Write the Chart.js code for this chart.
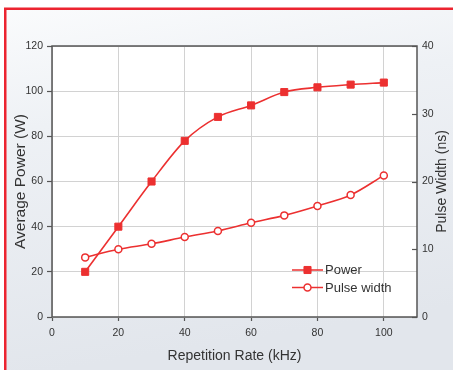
<!DOCTYPE html>
<html>
<head>
<meta charset="utf-8">
<script src="https://cdn.jsdelivr.net/npm/chart.js@4/dist/chart.umd.min.js"></script>
<style>
html,body{margin:0;padding:0;background:#fff;}
#wrap{width:453px;height:370px;position:relative;}
</style>
</head>
<body>
<div id="wrap"><canvas id="c" width="453" height="370"></canvas></div>
<script>
// ---- data ----
const repRate = [10, 20, 30, 40, 50, 60, 70, 80, 90, 100];
const power = [20, 40, 60, 78, 88.6, 93.7, 99.6, 101.7, 102.9, 103.8];
const pulseWidth = [8.8, 10, 10.8, 11.8, 12.7, 13.9, 15, 16.4, 18, 20.9];
const seriesNames = ['Power', 'Pulse width'];
const xTitle = 'Repetition Rate (kHz)';
const yLeftTitle = 'Average Power (W)';
const yRightTitle = 'Pulse Width (ns)';

const RED = '#ec3030';
const FONT = '"Liberation Sans", Arial, sans-serif';
const TXT = '#333333';

const bgPlugin = {
  id: 'bg',
  beforeDraw(chart) {
    const {ctx, width, height, chartArea: a} = chart;
    ctx.save();
    ctx.fillStyle = '#ffffff';
    ctx.fillRect(0, 0, width, height);
    const g = ctx.createLinearGradient(0, 0, 60, height);
    g.addColorStop(0, '#fbfcfd');
    g.addColorStop(0.35, '#eef1f5');
    g.addColorStop(1, '#e2e6ec');
    ctx.fillStyle = g;
    ctx.fillRect(5, 9, width, height);
    ctx.fillStyle = '#ffffff';
    ctx.fillRect(a.left, a.top, a.right - a.left, a.bottom - a.top);
    ctx.strokeStyle = '#ec2430';
    ctx.lineWidth = 2.5;
    ctx.strokeRect(5.25, 8.75, width + 20, height + 20);
    ctx.restore();
  },
  afterDatasetsDraw(chart) {
    const {ctx, chartArea: a} = chart;
    ctx.save();
    // frame
    ctx.strokeStyle = '#555555';
    ctx.lineWidth = 1.5;
    ctx.strokeRect(a.left, a.top, a.right - a.left, a.bottom - a.top);
    // inward ticks on right axis
    const yr = chart.scales.yR;
    ctx.lineWidth = 1.2;
    yr.ticks.forEach(t => {
      const y = Math.round(yr.getPixelForValue(t.value)) + 0.5;
      ctx.beginPath();
      ctx.moveTo(a.right - 5, y);
      ctx.lineTo(a.right, y);
      ctx.stroke();
    });
    // right axis title (reads bottom to top)
    ctx.save();
    ctx.translate(442.5, (a.top + a.bottom) / 2);
    ctx.rotate(-Math.PI / 2);
    ctx.fillStyle = TXT;
    ctx.font = '14px ' + FONT;
    ctx.textAlign = 'center';
    ctx.textBaseline = 'middle';
    ctx.fillText(yRightTitle, 0, 0);
    ctx.restore();
    // legend
    const rows = [
      {name: seriesNames[0], ds: chart.data.datasets[0], y: 270},
      {name: seriesNames[1], ds: chart.data.datasets[1], y: 287.5}
    ];
    const x0 = 292, x1 = 323, xm = 307.5;
    rows.forEach(r => {
      ctx.strokeStyle = RED;
      ctx.lineWidth = 1.5;
      ctx.beginPath();
      ctx.moveTo(x0, r.y);
      ctx.lineTo(x1, r.y);
      ctx.stroke();
      ctx.fillStyle = r.ds.pointBackgroundColor;
      ctx.strokeStyle = RED;
      ctx.lineWidth = r.ds.pointBorderWidth;
      ctx.beginPath();
      if (r.ds.pointStyle === 'rect') {
        const s = Math.SQRT1_2 * r.ds.pointRadius;
        ctx.rect(xm - s, r.y - s, 2 * s, 2 * s);
      } else {
        ctx.arc(xm, r.y, r.ds.pointRadius, 0, Math.PI * 2);
      }
      ctx.fill();
      ctx.stroke();
      ctx.fillStyle = TXT;
      ctx.font = '13px ' + FONT;
      ctx.textBaseline = 'middle';
      ctx.textAlign = 'left';
      ctx.fillText(r.name, 325, r.y + 0.5);
    });
    ctx.restore();
  }
};

const ctx = document.getElementById('c').getContext('2d');
new Chart(ctx, {
  type: 'line',
  data: {
    datasets: [
      {
        label: seriesNames[0],
        data: repRate.map((x, i) => ({x, y: power[i]})),
        yAxisID: 'yL',
        borderColor: RED,
        borderWidth: 1.6,
        pointStyle: 'rect',
        pointRadius: 5,
        pointBackgroundColor: RED,
        pointBorderColor: RED,
        pointBorderWidth: 1,
        cubicInterpolationMode: 'monotone',
        fill: false
      },
      {
        label: seriesNames[1],
        data: repRate.map((x, i) => ({x, y: pulseWidth[i]})),
        yAxisID: 'yR',
        borderColor: RED,
        borderWidth: 1.6,
        pointStyle: 'circle',
        pointRadius: 3.5,
        pointBackgroundColor: '#ffffff',
        pointBorderColor: RED,
        pointBorderWidth: 1.5,
        cubicInterpolationMode: 'monotone',
        fill: false
      }
    ]
  },
  options: {
    responsive: false,
    animation: false,
    layout: {padding: {top: 46, left: 0, right: 0, bottom: 0}},
    plugins: {legend: {display: false}, tooltip: {enabled: false}},
    scales: {
      x: {
        type: 'linear',
        min: 0, max: 110,
        afterBuildTicks(s) { s.ticks = s.ticks.filter(t => t.value <= 100); },
        afterFit(s) { s.height = 53; },
        ticks: {stepSize: 20, color: TXT, font: {family: FONT, size: 10.5}, padding: 6, maxRotation: 0},
        grid: {color: '#d2d2d2', lineWidth: 1, tickColor: '#555555', tickLength: 4, tickWidth: 1.2},
        border: {display: false},
        title: {display: true, text: xTitle, color: TXT, font: {family: FONT, size: 14}, padding: {top: 0, bottom: 5.5}}
      },
      yL: {
        type: 'linear',
        position: 'left',
        min: 0, max: 120,
        afterFit(s) { s.width = 52; },
        ticks: {stepSize: 20, color: TXT, font: {family: FONT, size: 10.5}, padding: 4},
        grid: {color: '#d2d2d2', lineWidth: 1, tickColor: '#555555', tickLength: 5, tickWidth: 1.2},
        border: {display: false},
        title: {display: true, text: yLeftTitle, color: TXT, font: {family: FONT, size: 15.5}, padding: {top: 11.7, bottom: 0}}
      },
      yR: {
        type: 'linear',
        position: 'right',
        min: 0, max: 40,
        afterFit(s) { s.width = 36; },
        ticks: {stepSize: 10, color: TXT, font: {family: FONT, size: 10.5}, padding: 5},
        grid: {display: true, drawOnChartArea: false, drawTicks: false},
        border: {display: false},
        title: {display: false}
      }
    }
  },
  plugins: [bgPlugin]
});
</script>
</body>
</html>
